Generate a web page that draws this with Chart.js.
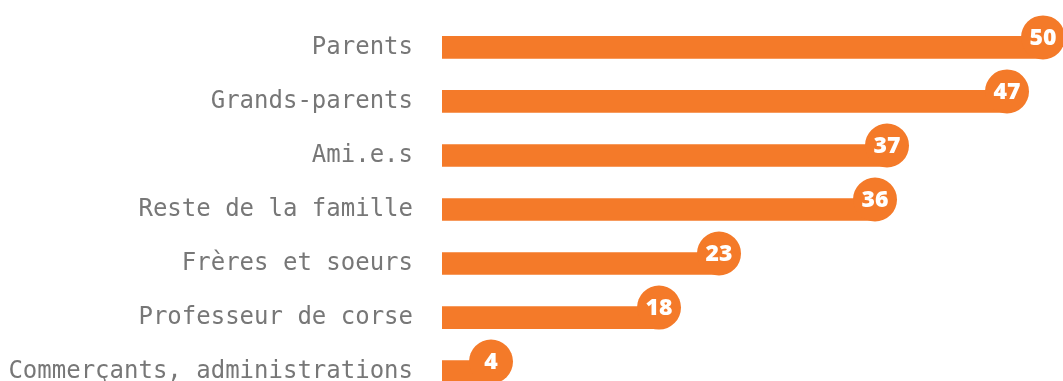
<!DOCTYPE html>
<html lang="fr">
<head>
<meta charset="utf-8">
<script src="https://cdn.jsdelivr.net/npm/chart.js@4/dist/chart.umd.min.js"></script>
<style>
  html, body { margin: 0; padding: 0; background: #fff; overflow: hidden; }
  canvas { display: block; margin-top: -23px; }
</style>
</head>
<body>
<canvas id="chart" width="1063" height="465"></canvas>
<script>
var categories = [
    'Parents',
    'Grands-parents',
    'Ami.e.s',
    'Reste de la famille',
    'Frères et soeurs',
    'Professeur de corse',
    'Commerçants, administrations'
];
var values = [50, 47, 37, 36, 23, 18, 4];

var orange = '#f47a29';

// round badge with the value, sitting on the end of each bar
var badges = {
    id: 'badges',
    afterDatasetsDraw: function (chart) {
        var ctx = chart.ctx;
        var meta = chart.getDatasetMeta(0);
        ctx.save();
        meta.data.forEach(function (bar, i) {
            var cx = bar.x + 1;
            var cy = bar.y - 10;
            ctx.beginPath();
            ctx.arc(cx, cy, 22, 0, Math.PI * 2);
            ctx.fillStyle = orange;
            ctx.fill();
            ctx.fillStyle = '#fff';
            ctx.font = '800 23px "Open Sans"';
            ctx.textAlign = 'center';
            ctx.textBaseline = 'middle';
            ctx.fillText(String(values[i]), cx, cy + 1);
        });
        ctx.restore();
    }
};

var config = {
    type: 'bar',
    data: {
        labels: categories,
        datasets: [{
            data: values,
            backgroundColor: orange,
            borderWidth: 0,
            barThickness: 22
        }]
    },
    options: {
        indexAxis: 'y',
        responsive: false,
        animation: false,
        layout: {
            padding: { top: 20, left: 0, right: 0, bottom: 0 }
        },
        plugins: {
            legend: { display: false },
            tooltip: { enabled: false }
        },
        scales: {
            x: {
                display: false,
                min: 0,
                max: 51.75
            },
            y: {
                grid: { display: false, drawTicks: false },
                border: { display: false },
                ticks: {
                    padding: 29,
                    color: '#777',
                    font: { family: 'DejaVu Sans Mono', size: 24 }
                },
                afterFit: function (scale) {
                    scale.width = 442;
                }
            }
        }
    },
    plugins: [badges]
};

window.onload = function () {
    var ctx = document.getElementById('chart').getContext('2d');
    window.myChart = new Chart(ctx, config);
};
</script>
</body>
</html>
